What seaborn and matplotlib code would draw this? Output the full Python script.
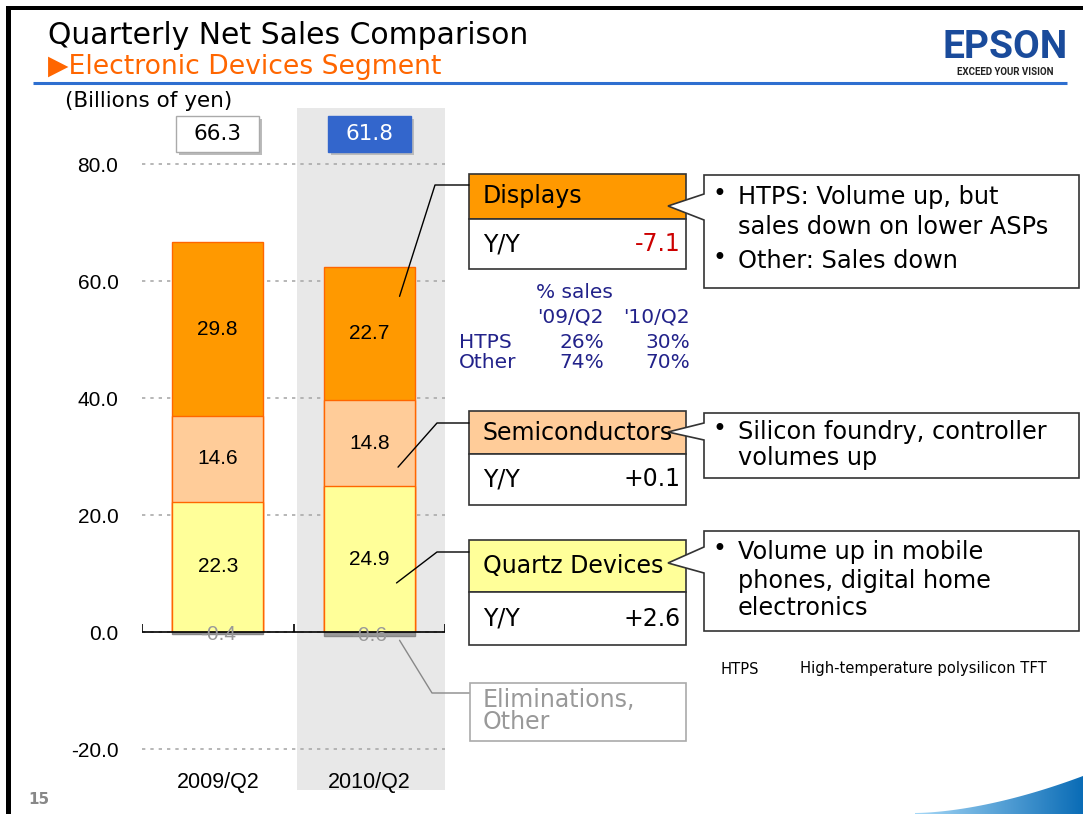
import numpy as np
import pandas as pd
import seaborn as sns
import matplotlib.pyplot as plt
from matplotlib.patches import Rectangle, Polygon
from matplotlib.colors import LinearSegmentedColormap

# Net sales by segment, billions of yen
quarters = ["2009/Q2", "2010/Q2"]
quartz = [22.3, 24.9]
semis = [14.6, 14.8]
displays = [29.8, 22.7]
elims = [-0.4, -0.6]
yticks = [-20, 0, 20, 40, 60, 80]

# side panels
seg_names = ["Displays", "Semiconductors", "Quartz Devices"]
seg_yy = ["-7.1", "+0.1", "+2.6"]
share_cols = ["'09/Q2", "'10/Q2"]
share_rows = ["HTPS", "Other"]
htps_share = ["26%", "30%"]
other_share = ["74%", "70%"]
notes_displays = ["HTPS: Volume up, but", "sales down on lower ASPs", "Other: Sales down"]
notes_semis = ["Silicon foundry, controller", "volumes up"]
notes_quartz = ["Volume up in mobile", "phones, digital home", "electronics"]

seg_colors = {"Displays": "#FF9900", "Semis": "#FFCC99", "Quartz": "#FFFF99"}

W, H = 1083, 814
sns.set_theme(style="white")
plt.rcParams["font.family"] = ["DejaVu Sans"]
plt.rcParams["text.color"] = "black"
plt.rcParams["xtick.color"] = "black"
plt.rcParams["ytick.color"] = "black"
fig = plt.figure(figsize=(W / 100, H / 100), dpi=100)

# main chart axes (pixel box 142..445 x 108..790)
ax = fig.add_axes([142 / W, 1 - 790 / H, 303 / W, 682 / H])
ax.patch.set_alpha(0)

df = pd.DataFrame({
    "quarter": quarters * 3,
    "segment": np.repeat(["Quartz", "Semis", "Displays"], 2),
    "value": quartz + semis + displays,
})
df["top"] = df.groupby("quarter")["value"].cumsum()
df["bottom"] = df["top"] - df["value"]

ax.axvspan(0.52, 1.5, color="#E8E8E8", zorder=0.2, lw=0)

# stacked bars: draw the cumulative heights from the top segment down
for seg in ["Displays", "Semis", "Quartz"]:
    sns.barplot(data=df[df.segment == seg], x="quarter", y="top", order=quarters,
                color=seg_colors[seg], saturation=1, width=0.6, edgecolor="#FF6600",
                linewidth=1, errorbar=None, ax=ax, zorder=2)
elim_df = pd.DataFrame({"quarter": quarters, "value": elims})
sns.barplot(data=elim_df, x="quarter", y="value", order=quarters, color="#999999",
            saturation=1, width=0.6, edgecolor="#888888", linewidth=1,
            errorbar=None, ax=ax, zorder=2)

lab_font = ["Liberation Sans", "DejaVu Sans"]
for r in df.itertuples():
    ax.text(quarters.index(r.quarter), (r.top + r.bottom) / 2, f"{r.value:.1f}",
            ha="center", va="center", fontsize=15, family=lab_font, zorder=5)
for i, v in enumerate(elims):
    ax.text(i, v, f"{v:.1f}", ha="center", va="center", fontsize=15,
            family=lab_font, color="#999999", zorder=5)

ax.set_xlim(-0.5, 1.5)
ax.set_ylim(-27.0, 89.6)
ax.set_xlabel("")
ax.set_ylabel("")
ax.set_yticks(yticks)
ax.set_yticklabels([f"{v:.1f}" for v in yticks], family=lab_font)
ax.set_xticks(range(len(quarters)))
ax.set_xticklabels(quarters, family=lab_font)
ax.tick_params(axis="y", length=0, pad=17, labelsize=15)
ax.tick_params(axis="x", length=0, pad=-13, labelsize=15.5)
ax.set_axisbelow(True)
ax.yaxis.grid(True, color="#AAAAAA", linestyle=(0, (2, 3)), linewidth=1.2)
sns.despine(ax=ax, left=True, bottom=True)
ax.axhline(0, color="black", lw=1.2, zorder=3)
ax.vlines([-0.5, 0.5, 1.5], 0, 1.4, color="black", lw=1.2, zorder=3)

# total boxes above bars
totals = df.groupby("quarter")["value"].sum().reindex(quarters).to_numpy() + np.array(elims)
for i, t in enumerate(totals):
    fc, ec, tc = ("white", "#AAAAAA", "black") if i == 0 else ("#3366CC", "#3366CC", "white")
    ax.add_patch(Rectangle((i - 0.255, 81.5), 0.55, 6.15, fc="#BBBBBB", ec="none",
                           clip_on=False, zorder=4))
    ax.add_patch(Rectangle((i - 0.275, 82.0), 0.55, 6.15, fc=fc, ec=ec, lw=1,
                           clip_on=False, zorder=4))
    ax.text(i, 85.1, f"{t:.1f}", ha="center", va="center", fontsize=15.5,
            color=tc, zorder=5)


def to_px(x, y):
    dx, dy = ax.transData.transform((x, y))
    return dx, H - dy


# overlay in pixel coordinates for the slide furniture
ov = fig.add_axes([0, 0, 1, 1], zorder=5)
ov.axis("off")

# bottom right swoosh
sx = np.linspace(915, W, 60)
sy = 813 - 37 * ((sx - 915) / (W - 915)) ** 1.7
sw = Polygon(list(zip(sx, sy)) + [(W, H), (915, H)], closed=True, fc="none", ec="none")
ov.add_patch(sw)
grad = np.linspace(0, 1, 256).reshape(1, -1)
cmap = LinearSegmentedColormap.from_list("sw", ["#A6D8F7", "#0A6CB6"])
im = ov.imshow(grad, extent=(915, W, H, 770), cmap=cmap, aspect="auto")
im.set_clip_path(sw)

ov.set_xlim(0, W)
ov.set_ylim(H, 0)

# frame
ov.add_patch(Rectangle((6, 6), W - 6, 4, fc="black", ec="none"))
ov.add_patch(Rectangle((6, 6), 5, H - 6, fc="black", ec="none"))

ov.text(48, 44, "Quarterly Net Sales Comparison", fontsize=21.5, va="baseline")
ov.text(48, 74, "\u25B6Electronic Devices Segment", fontsize=19.2, color="#FF6600",
        va="baseline")
ov.plot([33, 1067], [83, 83], color="#2E6FD0", lw=2.2, solid_capstyle="butt")
ov.text(1005, 66, "EPSON", fontsize=28, weight="bold", color="#1A4B9B", ha="center",
        va="bottom", family=["Roboto", "DejaVu Sans"])
ov.text(1005, 67, "EXCEED YOUR VISION", fontsize=7, weight="bold", color="#222222",
        ha="center", va="top", family=["Roboto", "DejaVu Sans"])
ov.text(28, 800, "15", fontsize=11, weight="bold", color="#888888", va="center")
ov.text(65, 101, "(Billions of yen)", fontsize=15.5, va="center")

# segment boxes
boxes = [(174, 219, 269, "#FF9900", "#CC0000"),
         (411, 454, 505, "#FFCC99", "black"),
         (540, 592, 645, "#FFFF99", "black")]
for (top, div, bot, fill, vc), name, yy in zip(boxes, seg_names, seg_yy):
    ov.add_patch(Rectangle((469, top), 217, div - top, fc=fill, ec="#333333", lw=1.2))
    ov.add_patch(Rectangle((469, div), 217, bot - div, fc="white", ec="#333333", lw=1.2))
    ov.text(483, (top + div) / 2, name, fontsize=17, va="center")
    ov.text(483, (div + bot) / 2, "Y/Y", fontsize=17, va="center")
    ov.text(681, (div + bot) / 2, yy, fontsize=17, va="center", ha="right", color=vc)

ov.add_patch(Rectangle((470, 683), 216, 58, fc="white", ec="#AAAAAA", lw=1.2))
ov.text(483, 700, "Eliminations,", fontsize=17, va="center", color="#999999")
ov.text(483, 722, "Other", fontsize=17, va="center", color="#999999")


# callouts with pointers
def callout(top, bot, p1, p2, tip_y, lines, ys):
    left, right = 704, 1079
    verts = [(left, top), (right, top), (right, bot), (left, bot), (left, p2),
             (668, tip_y), (left, p1)]
    ov.add_patch(Polygon(verts, closed=True, fc="white", ec="#333333", lw=1.2))
    for txt, y in zip(lines, ys):
        ov.text(738, y, txt, fontsize=17.3, va="center")


callout(175, 288, 194, 220, 206, notes_displays, [197, 227, 261])
ov.text(713, 194, "\u2022", fontsize=17, va="center")
ov.text(713, 258, "\u2022", fontsize=17, va="center")
callout(413, 478, 423, 440, 432, notes_semis, [432, 458])
ov.text(713, 429, "\u2022", fontsize=17, va="center")
callout(531, 631, 547, 573, 563, notes_quartz, [552, 581, 608])
ov.text(713, 549, "\u2022", fontsize=17, va="center")

# leader lines from the 2010 bar to the boxes
d_top = df[(df.quarter == quarters[1])].set_index("segment")
leaders = [
    (to_px(1.2, d_top.loc["Displays", "top"] - 5), (435, 185), "black"),
    (to_px(1.19, d_top.loc["Semis", "bottom"] + 3.3), (437, 423), "black"),
    (to_px(1.18, d_top.loc["Quartz", "bottom"] + 8.4), (437, 552), "black"),
    (to_px(1.2, elims[1] - 0.8), (432, 693), "#888888"),
]
for (x0, y0), (xm, ym), c in leaders:
    ov.plot([x0, xm, 469], [y0, ym, ym], color=c, lw=1)

# % sales table
navy = "#22228A"
ov.text(536, 292, "% sales", fontsize=14.5, color=navy, va="center")
for j, col in enumerate(share_cols):
    ov.text([604, 690][j], 317, col, fontsize=14.5, color=navy, va="center", ha="right")
for k, (row, vals) in enumerate(zip(share_rows, [htps_share, other_share])):
    y = [342, 362][k]
    ov.text(459, y, row, fontsize=14.5, color=navy, va="center")
    for j, v in enumerate(vals):
        ov.text([604, 690][j], y, v, fontsize=14.5, color=navy, va="center", ha="right")

ov.text(720, 669, "HTPS", fontsize=10.6, va="center")
ov.text(800, 669, "High-temperature polysilicon TFT", fontsize=10.6, va="center")

fig.savefig("out.png", dpi=100)
